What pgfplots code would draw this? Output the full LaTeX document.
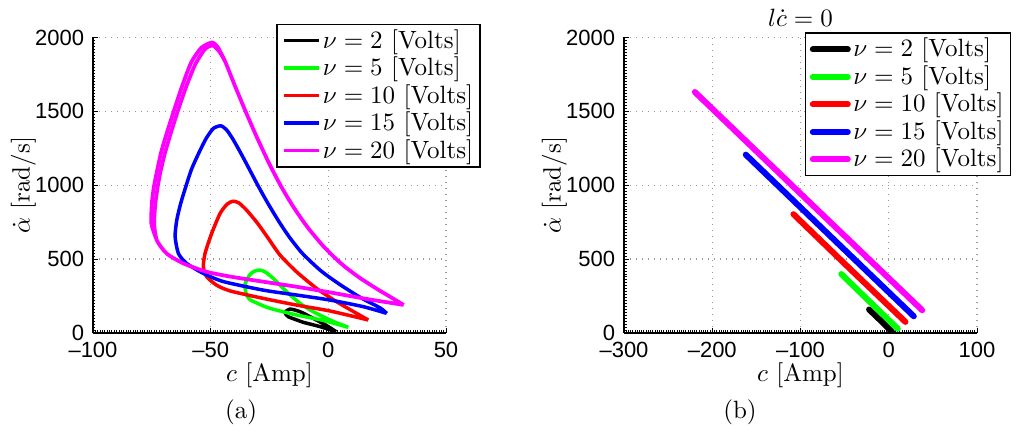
\documentclass[border=0pt]{standalone}
\usepackage{fontspec}
\usepackage{pgfplots}
\pgfplotsset{compat=1.18}
\newfontfamily\tickfont{Liberation Sans}
\definecolor{cK}{RGB}{0,0,0}
\definecolor{cG}{RGB}{0,255,0}
\definecolor{cR}{RGB}{255,0,0}
\definecolor{cB}{RGB}{0,0,255}
\definecolor{cM}{RGB}{255,0,255}

\pgfplotsset{
  matlab/.style={
    scale only axis, width=141.2pt, height=118.2pt,
    ymin=0, ymax=2000, ytick={0,500,1000,1500,2000},
    axis x line*=bottom, axis y line*=left,
    axis line style={-, black, line width=0.5pt},
    xtick pos=left, ytick pos=left,
    grid=major, grid style={dotted, gray!80, line width=0.5pt},
    tick align=inside, major tick length=2pt, minor tick length=1pt,
    tick style={black, line width=0.3pt},
    minor y tick num=24,
    ticklabel style={font=\tickfont\fontsize{8.8}{10}\selectfont},
    /pgf/number format/assume math mode=true,
    /pgf/number format/1000 sep={},
    xlabel style={at={(axis description cs:0.5,-0.144)}, anchor=center},
    ylabel style={at={(axis description cs:-0.197,0.5)}, anchor=center},
    xlabel={$c$ [Amp]}, ylabel={$\dot{\alpha}$ [rad/s]},
    every axis title shift=2pt,
    title style={inner sep=2pt},
    legend cell align=left,
    legend style={anchor=north east, draw=black, line width=0.6pt, fill=white,
      inner xsep=1.8pt, inner ysep=1pt, nodes={inner sep=1pt}},
    legend image code/.code={\draw[#1] (0pt,0pt) -- (14pt,0pt);},
  },
}

\begin{document}
\begin{tikzpicture}
\path[use as bounding box] (-37.2pt,-40pt) rectangle (369.2pt,133.2pt);

% (a) trajectories
\begin{axis}[matlab, at={(0pt,0pt)}, anchor=south west,
  xmin=-100, xmax=50, xtick={-100,-50,0,50},
  xticklabels={\textendash100,\textendash50,0,50},
  minor x tick num=49,
  legend style={at={(1.099,1.047)}},
  every axis plot/.append style={line width=1.4pt, line join=round, smooth, tension=0.4},
]
\addplot[cK] coordinates {
  (3.3,9) (-0.7,50) (-6.4,99) (-12,144) (-16.3,162) (-18.4,138) (-17,110)
  (-13,86) (-10.6,72) (-3.5,43) (3.3,9)};
\addplot[cG] coordinates {
  (8.5,38) (0.7,88) (-6.4,144) (-12,200) (-17.7,279) (-23.4,369) (-26.5,410)
  (-29,426) (-31.5,418) (-33.5,392) (-35.4,330) (-35,270) (-33.5,228)
  (-30,200) (-24.8,167) (-13.5,122) (-2.1,85) (8.5,38)};
\addplot[cR] coordinates {
  (17,88) (12,133) (3.5,212) (-5,302) (-13.5,414) (-20.5,527) (-25.5,640)
  (-30,741) (-34.7,831) (-38,880) (-40.5,892) (-43,872) (-46,809)
  (-49.6,673) (-52.4,538) (-53.1,448) (-51.7,381) (-47.5,324) (-41.8,285)
  (-27.6,234) (-13.5,189) (0.7,149) (17,88)};
\addplot[cB] coordinates {
  (24.8,133) (22,170) (14.2,235) (5.2,325) (-3.1,420) (-11.1,540) (-16.6,650)
  (-20.9,752) (-25.4,870) (-29.6,989) (-36.3,1191) (-40.1,1300) (-43,1370)
  (-45.6,1402) (-48.8,1385) (-51.8,1320) (-54.5,1236) (-58.3,1101) (-62.5,890)
  (-64.4,764) (-65.1,651) (-63.7,538) (-60.2,471) (-53.1,403) (-44.6,348)
  (-27.6,290) (-13.5,257) (0.7,223) (14.9,178) (24.8,133)};
\addplot[cM, line width=1.5pt] coordinates {
  (32,190) (26.8,240) (21,295) (13.2,375) (5.8,465) (-1.7,580) (-8.8,715)
  (-14.7,850) (-20,990) (-25.1,1146) (-30.4,1326) (-35.3,1505) (-40,1685)
  (-44,1843) (-46.8,1915) (-49.3,1946) (-52.5,1920) (-56.5,1820) (-60.5,1663)
  (-64,1500) (-67,1350) (-69.5,1213) (-71.2,1101) (-72.4,1000) (-73.5,876)
  (-74,741) (-72.9,628) (-68.7,538) (-61.6,471) (-51.7,414) (-41,380)
  (-27.6,347) (-13.5,313) (0.7,275) (14.9,234) (32,190)};
\addplot[cM, line width=1.5pt, forget plot] coordinates {
  (-73.2,640) (-75.2,741) (-75,876) (-74,1000) (-71.2,1213) (-68.7,1350)
  (-65.7,1500) (-62.3,1663) (-58.3,1830) (-54,1930) (-49.5,1966) (-47,1935)
  (-44.2,1848)};
\legend{$\nu = 2$ [Volts], $\nu = 5$ [Volts], $\nu = 10$ [Volts],
  $\nu = 15$ [Volts], $\nu = 20$ [Volts]}
\end{axis}

% (b) l c-dot = 0
\begin{axis}[matlab, at={(212.4pt,0pt)}, anchor=south west,
  xmin=-300, xmax=100, xtick={-300,-200,-100,0,100},
  xticklabels={\textendash300,\textendash200,\textendash100,0,100},
  minor x tick num=39,
  title={$l\dot{c} = 0$},
  legend style={at={(1.097,1.017)}},
  every axis plot/.append style={line width=2.4pt, line cap=round},
]
\addplot[cK] coordinates {(-22.3,159) (-9,83) (3.8,7)};
\addplot[cG] coordinates {(-53.8,399) (-22,214) (10.2,29)};
\addplot[cR] coordinates {(-108,804) (-45,440) (18.9,75)};
\addplot[cB] coordinates {(-162,1207) (-67,660) (28.4,113)};
\addplot[cM] coordinates {(-219.7,1631) (-91,892) (37.9,154)};
\legend{$\nu = 2$ [Volts], $\nu = 5$ [Volts], $\nu = 10$ [Volts],
  $\nu = 15$ [Volts], $\nu = 20$ [Volts]}
\end{axis}

\node at (59.2pt,-31.6pt) {(a)};
\node at (258.8pt,-31.6pt) {(b)};
\end{tikzpicture}
\end{document}
